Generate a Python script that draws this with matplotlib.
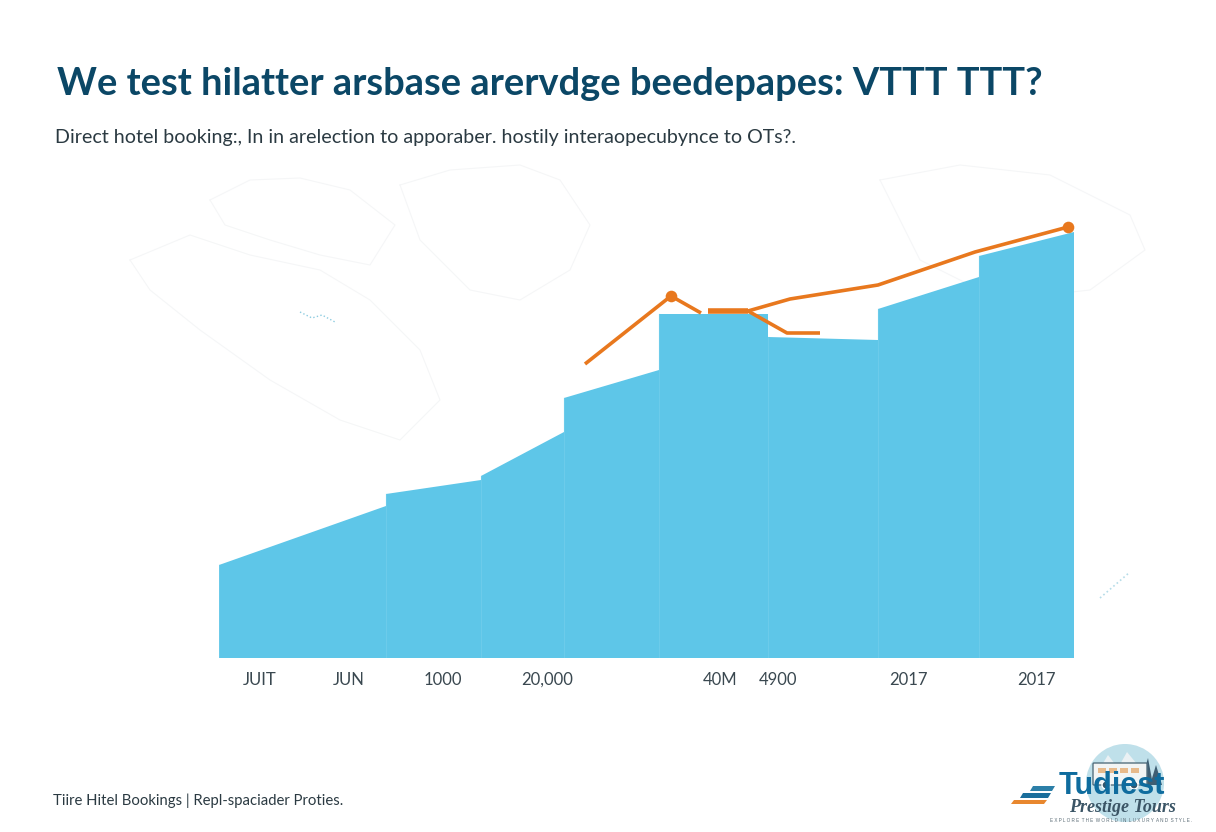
import numpy as np
import matplotlib
matplotlib.use('Agg')
import matplotlib.pyplot as plt
from matplotlib.patches import Circle, Polygon, Rectangle, FancyBboxPatch

TITLE = "We test hilatter arsbase arervdge beedepapes: VTTT TTT?"
SUBTITLE = "Direct hotel booking:, In in arelection to apporaber. hostily interaopecubynce to OTs?."
FOOTER = "Tiire Hitel Bookings | Repl-spaciader Proties."

# blue stepped area, one block per segment: (x start, x end, y start, y end)
seg_x0 = [219, 386, 481, 564, 659, 768, 878, 979]
seg_x1 = [386, 481, 564, 659, 768, 878, 979, 1074]
seg_y0 = [93, 164, 182, 260, 344, 321, 349, 402]
seg_y1 = [152, 178, 226, 288, 344, 318, 381, 426]

# orange lines
line_a_x = [585, 671, 701]
line_a_y = [294, 362, 345]
line_b_x = [708, 748]
line_b_y = [347, 347]
line_c_x = [748, 787, 820]
line_c_y = [347, 325, 325]
line_d_x = [748, 790, 878, 975, 1068]
line_d_y = [347, 359, 373, 406, 431]
dot_x = [671, 1068]
dot_y = [362, 431]

tick_pos = [260, 349, 443, 547, 720, 778, 908, 1036]
tick_labels = ["JUIT", "JUN", "1000", "20,000", "40M", "4900", "2017", "2017"]

BLUE = '#5EC6E8'
SEAM = '#6CCBEA'
ORANGE = '#E8781E'
NAVY = '#0B4766'

W, H = 1216, 832
fig = plt.figure(figsize=(W / 100, H / 100), dpi=100, facecolor='white')

# overlay in pixel coordinates for the faint map, titles and logo
bg = fig.add_axes([0, 0, 1, 1], zorder=0)
bg.set_xlim(0, W)
bg.set_ylim(H, 0)
bg.axis('off')

# faint world map outlines
map_lines = [
    ([210, 250, 300, 350, 395, 370, 320, 270, 225, 210], [200, 180, 178, 190, 225, 265, 255, 240, 225, 200]),
    ([130, 190, 250, 320, 370, 420, 440, 400, 340, 270, 200, 150, 130],
     [260, 235, 255, 270, 300, 350, 400, 440, 420, 380, 330, 290, 260]),
    ([400, 450, 520, 560, 590, 570, 520, 470, 420, 400], [185, 170, 165, 180, 225, 270, 300, 290, 240, 185]),
    ([880, 960, 1050, 1130, 1145, 1090, 1000, 920, 880], [180, 165, 175, 215, 250, 290, 300, 260, 180]),
]
for mx, my in map_lines:
    bg.plot(mx, my, color='#F5F6F7', lw=0.8)
bg.plot([300, 312, 322, 335], [312, 318, 315, 322], color='#8CCBE0', lw=1.0, ls=':')
bg.plot([1100, 1115, 1130], [598, 585, 572], color='#B5DCE8', lw=1.2, ls=':')

bg.text(57, 84, TITLE, family='Lato', weight='bold', fontsize=27.4, color=NAVY, va='center', ha='left')
bg.text(55, 137, SUBTITLE, family='Lato', fontsize=14.15, color='#2B3A42', va='center', ha='left')
bg.text(53, 801, FOOTER, family='Lato', fontsize=10.7, color='#2B3A42', va='center', ha='left')

# main chart axes, the data are heights above the baseline
ax = fig.add_axes([219 / W, (H - 658) / H, (1074 - 219) / W, (658 - 200) / H], zorder=1)
ax.patch.set_alpha(0)
ax.set_xlim(219, 1074)
ax.set_ylim(0, 458)
for s in ax.spines.values():
    s.set_visible(False)

for x0, x1, y0, y1 in zip(seg_x0, seg_x1, seg_y0, seg_y1):
    ax.fill_between([x0, x1], [y0, y1], 0, facecolor=BLUE, lw=0, zorder=2)
    # faint seam where two blocks meet
    ax.plot([x0, x0], [0, y0], color=SEAM, lw=0.8, zorder=2.5)

for lx, ly, lw in [(line_c_x, line_c_y, 2.6), (line_d_x, line_d_y, 2.6),
                   (line_a_x, line_a_y, 2.6), (line_b_x, line_b_y, 4)]:
    ax.plot(lx, ly, color=ORANGE, lw=lw, solid_capstyle='butt', zorder=3, clip_on=False)
ax.scatter(dot_x, dot_y, s=70, color=ORANGE, zorder=4, clip_on=False, lw=0)

ax.set_xticks(tick_pos)
ax.set_xticklabels(tick_labels, family='Lato', fontsize=12, color='#3A4850')
ax.tick_params(axis='x', length=0, pad=10)
ax.set_yticks([])

# logo, bottom right
lg = fig.add_axes([0, 0, 1, 1], zorder=2)
lg.set_xlim(0, W)
lg.set_ylim(H, 0)
lg.axis('off')
lg.patch.set_alpha(0)

lg.add_patch(Circle((1125, 783), 39, color='#BFE0EA', lw=0, zorder=1))
lg.add_patch(Polygon([[1096, 775], [1108, 755], [1118, 768], [1127, 752], [1146, 775]],
                     closed=True, color='#EAF1F4', lw=0, zorder=2))
lg.add_patch(Polygon([[1140, 785], [1148, 758], [1153, 785]], closed=True, color='#3F5E73', lw=0, zorder=2))
lg.add_patch(Polygon([[1150, 785], [1156, 765], [1162, 785]], closed=True, color='#3F5E73', lw=0, zorder=2))
lg.add_patch(FancyBboxPatch((1094, 764), 52, 20, boxstyle='round,pad=1', fc='#F2F4F4', ec='#55707F', lw=1, zorder=3))
for wx in range(1098, 1142, 11):
    lg.add_patch(Rectangle((wx, 768), 8, 5, color='#E7B98A', lw=0, zorder=4))
for wx in [1106, 1134]:
    lg.add_patch(Circle((wx, 785), 4, fc='#33566B', ec='white', lw=1, zorder=4))

for sx0, sx1, sy, sh, col in [(1030, 1052, 786, 5, '#2C7FA8'), (1020, 1048, 793, 5, '#1A6E9C'), (1011, 1044, 800, 4, '#E8872E')]:
    lg.add_patch(Polygon([[sx0 + 3, sy], [sx1 + 3, sy], [sx1, sy + sh], [sx0, sy + sh]], closed=True, color=col, lw=0, zorder=5))

lg.text(1112, 786, "Tudiest", family='Liberation Sans', weight='bold', fontsize=22, color='#0F6C9E',
        ha='center', va='center', zorder=6)
lg.text(1122, 808, "Prestige Tours", family='Liberation Serif', style='italic', weight='bold', fontsize=13,
        color='#3B5566', ha='center', va='center', zorder=7)
lg.text(1121, 820, "E X P L O R E  T H E  W O R L D  I N  L U X U R Y  A N D  S T Y L E .", family='Liberation Sans',
        fontsize=3.3, color='#5A6B75', ha='center', va='center', zorder=7)

fig.savefig('out.png', dpi=100, facecolor='white')
